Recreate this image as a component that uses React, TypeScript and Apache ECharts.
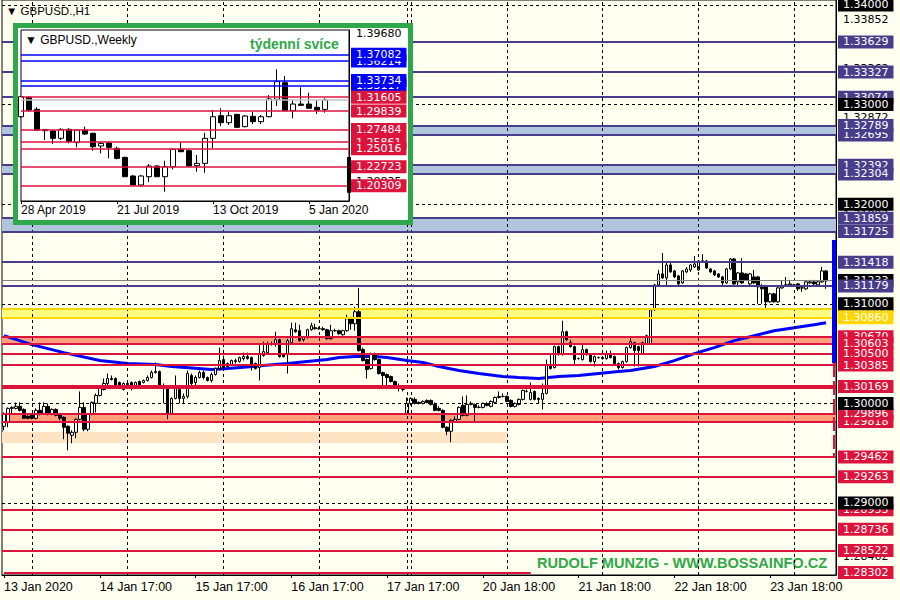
import React, { useEffect, useRef } from "react";
import * as echarts from "echarts";

// ---------------- H1 chart data ----------------
// [open, close, low, high]
const h1Candles: number[][] = [
  [1.2977, 1.2989, 1.2973, 1.2991], [1.2981, 1.2995, 1.2976, 1.2996], [1.2995, 1.2996, 1.2990, 1.2997], [1.2995, 1.2997, 1.2994, 1.3001],
  [1.2997, 1.2993, 1.2992, 1.3001], [1.2994, 1.2985, 1.2985, 1.2995], [1.2987, 1.2985, 1.2984, 1.2988], [1.2988, 1.2985, 1.2984, 1.2989],
  [1.2985, 1.2993, 1.2984, 1.2995], [1.2993, 1.2990, 1.2988, 1.3001], [1.2990, 1.2997, 1.2989, 1.3001], [1.2997, 1.2989, 1.2988, 1.3000],
  [1.2989, 1.2994, 1.2988, 1.2995], [1.2994, 1.2988, 1.2987, 1.2995], [1.2989, 1.2985, 1.2983, 1.2990], [1.2986, 1.2976, 1.2964, 1.2987],
  [1.2977, 1.2970, 1.2953, 1.2978], [1.2968, 1.2971, 1.2960, 1.2973], [1.2971, 1.2984, 1.2965, 1.2985], [1.2984, 1.2996, 1.2983, 1.3012],
  [1.2996, 1.2974, 1.2972, 1.3001], [1.2974, 1.2989, 1.2972, 1.2990], [1.2989, 1.3001, 1.2988, 1.3002], [1.3000, 1.3008, 1.2991, 1.3010],
  [1.3008, 1.3015, 1.3007, 1.3016], [1.3014, 1.3020, 1.3013, 1.3025], [1.3020, 1.3025, 1.3018, 1.3030], [1.3025, 1.3024, 1.3023, 1.3028],
  [1.3025, 1.3018, 1.3017, 1.3026], [1.3021, 1.3017, 1.3016, 1.3022], [1.3014, 1.3020, 1.3013, 1.3021], [1.3020, 1.3019, 1.3018, 1.3021],
  [1.3021, 1.3016, 1.3013, 1.3022], [1.3018, 1.3021, 1.3017, 1.3022], [1.3022, 1.3018, 1.3016, 1.3023], [1.3021, 1.3023, 1.3020, 1.3024],
  [1.3023, 1.3026, 1.3022, 1.3028], [1.3026, 1.3031, 1.3025, 1.3033], [1.3031, 1.3032, 1.3030, 1.3041], [1.3032, 1.3018, 1.3015, 1.3033],
  [1.3018, 1.3016, 1.3000, 1.3020], [1.3016, 1.2990, 1.2984, 1.3018], [1.2990, 1.3005, 1.2989, 1.3006], [1.3005, 1.3015, 1.3004, 1.3028],
  [1.3014, 1.3005, 1.3000, 1.3015], [1.3005, 1.3007, 1.3000, 1.3010], [1.3007, 1.3030, 1.3005, 1.3033], [1.3028, 1.3020, 1.3018, 1.3030],
  [1.3021, 1.3026, 1.3018, 1.3028], [1.3026, 1.3031, 1.3025, 1.3033], [1.3031, 1.3026, 1.3024, 1.3033], [1.3026, 1.3023, 1.3022, 1.3027],
  [1.3023, 1.3029, 1.3021, 1.3031], [1.3029, 1.3035, 1.3028, 1.3036], [1.3035, 1.3043, 1.3033, 1.3056], [1.3044, 1.3036, 1.3035, 1.3048],
  [1.3037, 1.3040, 1.3036, 1.3041], [1.3039, 1.3043, 1.3038, 1.3044], [1.3042, 1.3043, 1.3040, 1.3045], [1.3042, 1.3046, 1.3041, 1.3047],
  [1.3045, 1.3047, 1.3043, 1.3051], [1.3047, 1.3045, 1.3044, 1.3051], [1.3046, 1.3037, 1.3033, 1.3047], [1.3040, 1.3035, 1.3034, 1.3041],
  [1.3036, 1.3049, 1.3023, 1.3060], [1.3048, 1.3052, 1.3047, 1.3062], [1.3051, 1.3060, 1.3050, 1.3062], [1.3059, 1.3060, 1.3058, 1.3062],
  [1.3059, 1.3064, 1.3057, 1.3072], [1.3064, 1.3047, 1.3046, 1.3065], [1.3049, 1.3047, 1.3046, 1.3050], [1.3049, 1.3063, 1.3030, 1.3065],
  [1.3061, 1.3075, 1.3060, 1.3081], [1.3074, 1.3072, 1.3071, 1.3081], [1.3073, 1.3063, 1.3062, 1.3079], [1.3064, 1.3066, 1.3062, 1.3067],
  [1.3066, 1.3074, 1.3065, 1.3075], [1.3074, 1.3078, 1.3073, 1.3081], [1.3076, 1.3075, 1.3074, 1.3080], [1.3075, 1.3075, 1.3074, 1.3077],
  [1.3075, 1.3074, 1.3073, 1.3077], [1.3074, 1.3065, 1.3064, 1.3075], [1.3065, 1.3073, 1.3064, 1.3079], [1.3073, 1.3073, 1.3072, 1.3075],
  [1.3073, 1.3070, 1.3069, 1.3074], [1.3069, 1.3073, 1.3068, 1.3074], [1.3073, 1.3085, 1.3072, 1.3089], [1.3085, 1.3080, 1.3074, 1.3087],
  [1.3080, 1.3092, 1.3073, 1.3097], [1.3092, 1.3053, 1.3052, 1.3116], [1.3054, 1.3043, 1.3042, 1.3056], [1.3044, 1.3034, 1.3025, 1.3045],
  [1.3035, 1.3050, 1.3034, 1.3051], [1.3050, 1.3044, 1.3043, 1.3051], [1.3044, 1.3030, 1.3029, 1.3045], [1.3031, 1.3028, 1.3015, 1.3032],
  [1.3029, 1.3026, 1.3016, 1.3030], [1.3027, 1.3022, 1.3021, 1.3028], [1.3022, 1.3017, 1.3015, 1.3023], [1.3017, 1.3015, 1.3012, 1.3020],
  [1.3015, 1.3014, 1.3012, 1.3016], [1.2990, 1.3000, 1.2989, 1.3006], [1.3000, 1.3005, 1.2998, 1.3006], [1.3004, 1.3000, 1.2999, 1.3006],
  [1.3001, 1.3000, 1.2999, 1.3002], [1.3000, 1.3002, 1.2999, 1.3003], [1.3003, 1.3001, 1.3000, 1.3004], [1.3003, 1.2999, 1.2998, 1.3004],
  [1.2999, 1.2993, 1.2992, 1.3001], [1.2995, 1.2993, 1.2992, 1.2997], [1.2993, 1.2976, 1.2975, 1.2994], [1.2976, 1.2972, 1.2968, 1.2977],
  [1.2972, 1.2983, 1.2961, 1.2984], [1.2982, 1.2984, 1.2981, 1.2987], [1.2984, 1.2996, 1.2983, 1.2997], [1.2998, 1.2988, 1.2987, 1.3007],
  [1.2988, 1.2999, 1.2987, 1.3008], [1.2999, 1.3000, 1.2998, 1.3002], [1.2999, 1.2996, 1.2982, 1.3000], [1.2996, 1.2996, 1.2995, 1.2998],
  [1.2996, 1.3000, 1.2995, 1.3001], [1.3000, 1.2998, 1.2997, 1.3001], [1.2997, 1.3002, 1.2996, 1.3003], [1.3001, 1.3006, 1.3000, 1.3007],
  [1.3006, 1.3007, 1.3005, 1.3012], [1.3007, 1.3007, 1.3006, 1.3010], [1.3007, 1.3002, 1.3001, 1.3008], [1.3003, 1.2997, 1.2996, 1.3004],
  [1.2997, 1.3000, 1.2996, 1.3001], [1.2999, 1.3004, 1.2998, 1.3005], [1.3004, 1.3013, 1.3003, 1.3014], [1.3012, 1.3012, 1.3011, 1.3014],
  [1.3004, 1.3011, 1.3003, 1.3021], [1.3012, 1.3004, 1.3003, 1.3013], [1.3005, 1.3004, 1.3000, 1.3006], [1.3004, 1.3010, 1.2994, 1.3020],
  [1.3010, 1.3039, 1.3009, 1.3044], [1.3039, 1.3035, 1.3034, 1.3050], [1.3036, 1.3057, 1.3035, 1.3058], [1.3057, 1.3049, 1.3048, 1.3058],
  [1.3049, 1.3072, 1.3048, 1.3083], [1.3072, 1.3064, 1.3063, 1.3073], [1.3061, 1.3057, 1.3056, 1.3064], [1.3057, 1.3044, 1.3038, 1.3058],
  [1.3045, 1.3045, 1.3044, 1.3046], [1.3044, 1.3054, 1.3043, 1.3059], [1.3054, 1.3049, 1.3048, 1.3055], [1.3049, 1.3042, 1.3041, 1.3050],
  [1.3042, 1.3047, 1.3037, 1.3048], [1.3046, 1.3046, 1.3045, 1.3047], [1.3046, 1.3045, 1.3044, 1.3047], [1.3045, 1.3049, 1.3044, 1.3053],
  [1.3049, 1.3046, 1.3045, 1.3053], [1.3047, 1.3040, 1.3039, 1.3048], [1.3040, 1.3036, 1.3034, 1.3041], [1.3036, 1.3042, 1.3035, 1.3043],
  [1.3042, 1.3056, 1.3041, 1.3057], [1.3056, 1.3062, 1.3055, 1.3066], [1.3061, 1.3053, 1.3037, 1.3062], [1.3057, 1.3053, 1.3037, 1.3058],
  [1.3050, 1.3061, 1.3049, 1.3062], [1.3060, 1.3068, 1.3059, 1.3069], [1.3060, 1.3094, 1.3059, 1.3095], [1.3094, 1.3119, 1.3093, 1.3120],
  [1.3119, 1.3130, 1.3118, 1.3134], [1.3130, 1.3126, 1.3125, 1.3151], [1.3126, 1.3139, 1.3118, 1.3143], [1.3139, 1.3132, 1.3131, 1.3143],
  [1.3133, 1.3127, 1.3126, 1.3134], [1.3128, 1.3120, 1.3119, 1.3129], [1.3121, 1.3133, 1.3120, 1.3134], [1.3132, 1.3135, 1.3131, 1.3137],
  [1.3134, 1.3139, 1.3132, 1.3140], [1.3137, 1.3140, 1.3136, 1.3148], [1.3134, 1.3143, 1.3133, 1.3144], [1.3143, 1.3143, 1.3142, 1.3150],
  [1.3143, 1.3136, 1.3135, 1.3144], [1.3135, 1.3132, 1.3131, 1.3136], [1.3133, 1.3129, 1.3128, 1.3134], [1.3130, 1.3127, 1.3126, 1.3131],
  [1.3127, 1.3121, 1.3117, 1.3128], [1.3121, 1.3135, 1.3120, 1.3136], [1.3135, 1.3145, 1.3134, 1.3146], [1.3145, 1.3120, 1.3119, 1.3146],
  [1.3122, 1.3131, 1.3117, 1.3132], [1.3131, 1.3121, 1.3120, 1.3146], [1.3130, 1.3124, 1.3123, 1.3131], [1.3120, 1.3130, 1.3118, 1.3131],
  [1.3127, 1.3121, 1.3120, 1.3134], [1.3127, 1.3117, 1.3100, 1.3128], [1.3117, 1.3115, 1.3100, 1.3120], [1.3118, 1.3102, 1.3096, 1.3119],
  [1.3102, 1.3110, 1.3101, 1.3111], [1.3110, 1.3102, 1.3101, 1.3111], [1.3102, 1.3116, 1.3101, 1.3117], [1.3116, 1.3118, 1.3115, 1.3123],
  [1.3119, 1.3119, 1.3118, 1.3127], [1.3119, 1.3120, 1.3118, 1.3124], [1.3119, 1.3118, 1.3117, 1.3120], [1.3120, 1.3115, 1.3113, 1.3121],
  [1.3116, 1.3116, 1.3112, 1.3117], [1.3115, 1.3122, 1.3114, 1.3123], [1.3121, 1.3122, 1.3120, 1.3124], [1.3122, 1.3120, 1.3119, 1.3124],
  [1.3119, 1.3122, 1.3117, 1.3123], [1.3122, 1.3133, 1.3121, 1.3137], [1.3133, 1.3123, 1.3115, 1.3134],
];

// moving average: [bar index, value]
const maPoints: number[][] = [
  [0, 1.3068], [7, 1.3059], [15, 1.3051], [24, 1.3043], [31, 1.3040], [38, 1.3039], [42, 1.3037], [52, 1.3034],
  [56, 1.3035], [71, 1.3040], [76, 1.3042], [81, 1.3044], [84, 1.3046], [88, 1.3047], [93, 1.3047], [96, 1.3046],
  [101, 1.3043], [105, 1.3041], [109, 1.3037], [114, 1.3033], [119, 1.3030], [125, 1.3027], [129, 1.3026], [134, 1.3025],
  [139, 1.3027], [144, 1.3028], [149, 1.3030], [154, 1.3032], [157, 1.3033], [163, 1.3037], [168, 1.3043], [173, 1.3050],
  [178, 1.3056], [183, 1.3063], [188, 1.3068], [193, 1.3073], [198, 1.3076], [203, 1.3079], [206, 1.3081],
];

const h1BarSlots = 209;
const h1TickIdx = [0, 24, 48, 72, 96, 120, 144, 168, 192];
const h1TickText = ["13 Jan 2020", "14 Jan 17:00", "15 Jan 17:00", "16 Jan 17:00", "17 Jan 17:00", "20 Jan 18:00", "21 Jan 18:00", "22 Jan 18:00", "23 Jan 18:00"];
const h1GridIdx = [7, 31, 55, 79, 101, 102, 126, 150, 174, 198];
const priceTicks = [1.33852, 1.33362, 1.32872, 1.32382, 1.31892, 1.31402, 1.30912, 1.30422, 1.29932, 1.29442, 1.28952, 1.28462];

const bidPrice = 1.31233;
const roundLevels = [1.34, 1.33, 1.32, 1.31, 1.3, 1.29];
const slateLevels = [1.33629, 1.33327, 1.33074, 1.32695, 1.32789, 1.32392, 1.32304, 1.31859, 1.31725, 1.31418, 1.31179];
const goldLevels = [1.30955, 1.3086];
const crimsonLevels = [1.3067, 1.30603, 1.305, 1.30385, 1.29818, 1.29896, 1.29462, 1.29263, 1.28933, 1.28736, 1.28522];
const heavyLevel = 1.30169;
const bottomLevel = 1.28302;
const bottomLevelEndIdx = 132;
const blueBands = [[1.32789, 1.32695], [1.32392, 1.32304], [1.31859, 1.31725]];
const salmonBands = [[1.3067, 1.30603], [1.29896, 1.29818]];
const yellowBand = [1.30955, 1.3086];
const peachZone = [1.29713, 1.29602];
const peachZoneEndIdx = 126;
const sideBarBlue = [1.31641, 1.30406];
const sideBarRed = [1.30406, 1.2946];

// ---------------- Weekly inset data ----------------
const weeklyCandles: number[][] = [
  [1.2911, 1.3167, 1.2895, 1.3180], [1.3158, 1.2997, 1.2975, 1.3175], [1.3006, 1.2741, 1.2733, 1.3032], [1.2745, 1.2733, 1.2614, 1.2750],
  [1.2728, 1.2635, 1.2563, 1.2741], [1.2635, 1.2750, 1.2614, 1.2763], [1.2750, 1.2593, 1.2571, 1.2763], [1.2580, 1.2741, 1.2520, 1.2741],
  [1.2741, 1.2690, 1.2677, 1.2784], [1.2699, 1.2528, 1.2477, 1.2707], [1.2537, 1.2571, 1.2443, 1.2592], [1.2576, 1.2520, 1.2379, 1.2592],
  [1.2507, 1.2379, 1.2366, 1.2528], [1.2392, 1.2145, 1.2145, 1.2400], [1.2154, 1.2039, 1.2039, 1.2167], [1.2039, 1.2154, 1.2017, 1.2167],
  [1.2145, 1.2281, 1.2077, 1.2307], [1.2281, 1.2145, 1.2145, 1.2294], [1.2145, 1.2273, 1.1954, 1.2349], [1.2273, 1.2494, 1.2239, 1.2507],
  [1.2494, 1.2464, 1.2464, 1.2579], [1.2477, 1.2281, 1.2281, 1.2494], [1.2286, 1.2315, 1.2209, 1.2422], [1.2315, 1.2635, 1.2196, 1.2707],
  [1.2635, 1.2911, 1.2507, 1.2997], [1.2924, 1.2835, 1.2792, 1.3018], [1.2835, 1.2924, 1.2805, 1.2975], [1.2941, 1.2775, 1.2775, 1.2946],
  [1.2784, 1.2920, 1.2775, 1.2933], [1.2916, 1.2848, 1.2818, 1.2971], [1.2848, 1.2911, 1.2818, 1.2933], [1.2911, 1.3137, 1.2903, 1.3188],
  [1.3133, 1.3359, 1.3048, 1.3516], [1.3346, 1.2988, 1.2988, 1.3431], [1.2988, 1.3073, 1.2890, 1.3125], [1.3073, 1.3056, 1.3048, 1.3286],
  [1.3073, 1.3018, 1.3018, 1.3218], [1.3031, 1.2997, 1.2946, 1.3125], [1.3005, 1.3125, 1.2963, 1.3146],
];
const weeklySlots = 42;
const weeklyTickIdx = [0, 12, 24, 36];
const weeklyTickText = ["28 Apr 2019", "21 Jul 2019", "13 Oct 2019", "5 Jan 2020"];
const weeklyPriceTicks = [1.3968, 1.33398, 1.27117, 1.20835];
const weeklyBlueLevels = [1.36214, 1.37082, 1.33117, 1.33734];
const weeklyCrimsonLevels = [1.31605, 1.29839, 1.27484, 1.25861, 1.25016, 1.22723, 1.20309];
const weeklySideBar = [1.2396, 1.194];

// ---------------- styling ----------------
const IVORY = "#FFFFF0";
const SLATE = "#483D8B";
const CRIMSON = "#DC143C";
const GOLD = "#FFD700";
const GREEN = "#2EA84A";
const PRICE_FONT = "DejaVu Sans";
const AXIS_FONT = "Liberation Sans";

function levelLine(v: number, color: string, width: number, type: any, bg: string, showLabel = true) {
  return {
    yAxis: v,
    lineStyle: { color, width, type },
    label: {
      show: showLabel,
      position: "end",
      distance: 2,
      formatter: v.toFixed(5),
      color: "#fff",
      backgroundColor: bg,
      fontFamily: PRICE_FONT,
      fontSize: 11,
      lineHeight: 11,
      padding: [1, 5, 1, 5],
    },
  };
}

function mainOption(): any {
  const cats = Array.from({ length: h1BarSlots }, (_, i) => String(i));
  const labelAt = new Map<number, string>(h1TickIdx.map((i, k) => [i, h1TickText[k]]));

  const lines: any[] = [];
  // vertical grid
  h1GridIdx.forEach((i) =>
    lines.push({ xAxis: i, lineStyle: { color: "#000", width: 1, type: [3, 3] }, label: { show: false } })
  );
  lines.push(levelLine(bidPrice, "#808080", 1, "solid", "#000"));
  slateLevels.forEach((v) => lines.push(levelLine(v, SLATE, 2, "solid", SLATE)));
  goldLevels.forEach((v) => lines.push(levelLine(v, GOLD, 2, "solid", GOLD)));
  crimsonLevels.forEach((v) => lines.push(levelLine(v, CRIMSON, 2, "solid", CRIMSON)));
  lines.push(levelLine(heavyLevel, CRIMSON, 4, "solid", CRIMSON));
  // label only (line itself is a shorter segment)
  lines.push(levelLine(bottomLevel, "rgba(0,0,0,0)", 1, "solid", CRIMSON));
  lines.push([
    { coord: [0, bottomLevel], lineStyle: { color: CRIMSON, width: 2, type: "solid" }, label: { show: false } },
    { coord: [bottomLevelEndIdx, bottomLevel] },
  ]);
  roundLevels.forEach((v) => lines.push(levelLine(v, "#000", 1, [3, 3], "#000")));
  lines.push([
    { coord: [h1BarSlots - 1, sideBarRed[0]], lineStyle: { color: CRIMSON, width: 2, type: [14, 4] }, label: { show: false } },
    { coord: [h1BarSlots - 1, sideBarRed[1]] },
  ]);
  lines.push([
    { coord: [h1BarSlots - 1, sideBarBlue[0]], lineStyle: { color: "#0000FF", width: 4, type: "solid" }, label: { show: false } },
    { coord: [h1BarSlots - 1, sideBarBlue[1]] },
  ]);

  const areas: any[] = [];
  blueBands.forEach(([a, b]) => areas.push([{ yAxis: a, itemStyle: { color: "#B0C4DE" } }, { yAxis: b }]));
  salmonBands.forEach(([a, b]) => areas.push([{ yAxis: a, itemStyle: { color: "#FFA07A" } }, { yAxis: b }]));
  areas.push([{ yAxis: yellowBand[0], itemStyle: { color: "#FFFF80" } }, { yAxis: yellowBand[1] }]);
  areas.push([{ yAxis: peachZone[0], itemStyle: { color: "#FFE4C4" } }, { xAxis: peachZoneEndIdx, yAxis: peachZone[1] }]);

  return {
    animation: false,
    backgroundColor: IVORY,
    grid: { left: 2, right: 64, top: 0, bottom: 25, show: true, borderColor: "#000", borderWidth: 1, backgroundColor: "transparent" },
    xAxis: {
      type: "category",
      data: cats,
      boundaryGap: true,
      axisLine: { show: true, lineStyle: { color: "#000", width: 1 } },
      axisTick: { show: true, alignWithLabel: true, interval: (i: number) => labelAt.has(i), length: 3, lineStyle: { color: "#000" } },
      axisLabel: {
        interval: (i: number) => labelAt.has(i),
        formatter: (_v: string, i: number) => labelAt.get(i) ?? "",
        align: "left",
        color: "#000",
        fontFamily: AXIS_FONT,
        fontSize: 12.5,
        margin: 5,
      },
      splitLine: { show: false },
    },
    yAxis: {
      type: "value",
      position: "right",
      min: 1.282771,
      max: 1.340502,
      axisLine: { show: true, lineStyle: { color: "#000" } },
      axisTick: { show: false },
      splitLine: { show: false },
      axisLabel: {
        customValues: priceTicks,
        formatter: (v: number) => v.toFixed(5),
        color: "#000",
        fontFamily: PRICE_FONT,
        fontSize: 11,
        margin: 7,
      },
    },
    series: [
      {
        type: "line",
        data: [],
        clip: false,
        z: 1,
        silent: true,
        markArea: { silent: true, data: areas },
      },
      {
        type: "line",
        data: [],
        clip: false,
        z: 2,
        silent: true,
        markLine: { silent: true, precision: 6, symbol: ["none", "none"], animation: false, data: lines },
      },
      {
        type: "line",
        data: maPoints,
        symbol: "none",
        showSymbol: false,
        silent: true,
        z: 3,
        lineStyle: { color: "#0000FF", width: 3 },
      },
      {
        type: "candlestick",
        data: h1Candles,
        barWidth: 3,
        z: 4,
        silent: true,
        itemStyle: { color: "#FFFFFF", color0: "#000000", borderColor: "#000000", borderColor0: "#000000", borderWidth: 1 },
      },
    ],
    graphic: [
      {
        type: "text",
        left: 6,
        top: 5,
        style: { text: "▼ GBPUSD.,H1", fill: "#000", font: `11.5px ${AXIS_FONT}` },
      },
      {
        type: "text",
        left: 537,
        top: 555,
        style: { text: "RUDOLF MUNZIG - WWW.BOSSAINFO.CZ", fill: GREEN, font: `bold 14.6px ${AXIS_FONT}` },
      },
    ],
  };
}

function insetOption(): any {
  const cats = Array.from({ length: weeklySlots }, (_, i) => String(i));
  const labelAt = new Map<number, string>(weeklyTickIdx.map((i, k) => [i, weeklyTickText[k]]));
  const mk = (v: number, color: string, bg: string) => ({
    yAxis: v,
    lineStyle: { color, width: 1.5, type: "solid" },
    label: {
      show: true,
      position: "end",
      distance: 2,
      formatter: v.toFixed(5),
      color: "#fff",
      backgroundColor: bg,
      fontFamily: PRICE_FONT,
      fontSize: 11,
      lineHeight: 11,
      padding: [1, 5, 1, 5],
    },
  });
  const lines: any[] = [];
  lines.push({ yAxis: bidPrice, lineStyle: { color: "#C0C0C0", width: 1.5, type: "solid" }, label: { show: false } });
  weeklyBlueLevels.forEach((v) => lines.push(mk(v, "#0000FF", "#0000FF")));
  weeklyCrimsonLevels.forEach((v) => lines.push(mk(v, CRIMSON, CRIMSON)));
  lines.push([
    { coord: [weeklySlots - 1, weeklySideBar[0]], lineStyle: { color: "#000", width: 4, type: "solid" }, label: { show: false } },
    { coord: [weeklySlots - 1, weeklySideBar[1]] },
  ]);

  return {
    animation: false,
    backgroundColor: "#FFFFFF",
    grid: { left: 2, right: 59, top: 2, bottom: 19, show: true, borderColor: "#000", borderWidth: 1 },
    xAxis: {
      type: "category",
      data: cats,
      boundaryGap: false,
      axisLine: { show: true, lineStyle: { color: "#000" } },
      axisTick: { show: true, interval: (i: number) => labelAt.has(i), length: 3, lineStyle: { color: "#000" } },
      axisLabel: {
        interval: (i: number) => labelAt.has(i),
        formatter: (_v: string, i: number) => labelAt.get(i) ?? "",
        align: "left",
        color: "#000",
        fontFamily: AXIS_FONT,
        fontSize: 12,
        margin: 3,
      },
      splitLine: { show: false },
    },
    yAxis: {
      type: "value",
      position: "right",
      min: 1.18347,
      max: 1.40185,
      axisLine: { show: true, lineStyle: { color: "#000" } },
      axisTick: { show: false },
      splitLine: { show: false },
      axisLabel: {
        customValues: weeklyPriceTicks,
        formatter: (v: number) => v.toFixed(5),
        color: "#000",
        fontFamily: PRICE_FONT,
        fontSize: 11,
        margin: 7,
      },
    },
    series: [
      {
        type: "line",
        data: [],
        clip: false,
        z: 1,
        silent: true,
        markLine: { silent: true, precision: 6, symbol: ["none", "none"], animation: false, data: lines },
      },
      {
        type: "candlestick",
        data: weeklyCandles,
        barWidth: 5,
        z: 4,
        silent: true,
        itemStyle: { color: "#FFFFFF", color0: "#000000", borderColor: "#000000", borderColor0: "#000000", borderWidth: 1 },
      },
    ],
    graphic: [
      { type: "text", left: 7, top: 6, style: { text: "▼ GBPUSD.,Weekly", fill: "#000", font: `12px ${AXIS_FONT}` } },
      { type: "text", left: 232, top: 9, style: { text: "týdenní svíce", fill: GREEN, font: `bold 14px ${AXIS_FONT}` } },
    ],
  };
}

export default function App() {
  const mainRef = useRef<HTMLDivElement>(null);
  const insetRef = useRef<HTMLDivElement>(null);

  useEffect(() => {
    if (!mainRef.current || !insetRef.current) return;
    const main = echarts.init(mainRef.current, undefined, { renderer: "svg" });
    main.setOption(mainOption());
    const inset = echarts.init(insetRef.current, undefined, { renderer: "svg" });
    inset.setOption(insetOption());
    return () => {
      main.dispose();
      inset.dispose();
    };
  }, []);

  return (
    <div style={{ position: "fixed", left: 0, top: 0, width: 900, height: 600, background: IVORY, overflow: "hidden" }}>
      <div ref={mainRef} style={{ position: "absolute", left: 0, top: 0, width: 900, height: 600 }} />
      <div
        style={{
          position: "absolute",
          left: 13,
          top: 23,
          width: 400,
          height: 202,
          boxSizing: "border-box",
          border: `5px solid ${GREEN}`,
          background: "#FFFFFF",
        }}
      >
        <div ref={insetRef} style={{ width: 390, height: 192 }} />
      </div>
    </div>
  );
}
